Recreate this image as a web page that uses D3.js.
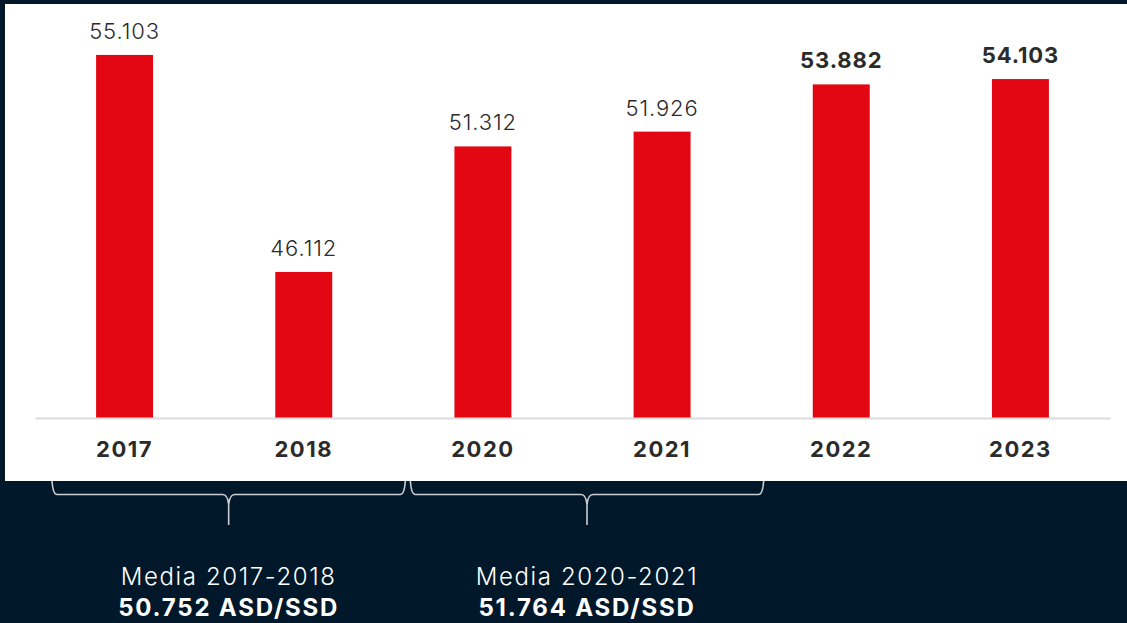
<!DOCTYPE html>
<html>
  <head>
    <meta charset="utf-8">
    <title>Media ASD/SSD</title>
    <style type="text/css">
        body {
            margin: 0;
            background: #01182b;
        }
        svg {
            display: block;
            font-family: "Inter", "Open Sans", sans-serif;
        }
    </style>
  </head>
  <body>
    <svg width="1127" height="623"></svg>

    <script src="https://cdn.jsdelivr.net/npm/d3@7"></script>
    <script>

    // Data
    var years = ["2017", "2018", "2020", "2021", "2022", "2023"];
    var values = [55.103, 46.112, 51.312, 51.926, 53.882, 54.103];
    var valueLabels = ["55.103", "46.112", "51.312", "51.926", "53.882", "54.103"];
    var boldLabels = [false, false, false, false, true, true];

    var groupRanges = [["2017", "2018"], ["2020", "2021"]];
    var groupTitles = ["Media 2017-2018", "Media 2020-2021"];
    var groupValues = ["50.752 ASD/SSD", "51.764 ASD/SSD"];

    var svg = d3.select("svg"),
        width = +svg.attr("width"),
        height = +svg.attr("height");

    // white panel
    svg.append("rect")
        .attr("x", 5)
        .attr("y", 4)
        .attr("width", width - 5)
        .attr("height", 477)
        .attr("fill", "#fff");

    var x = d3.scaleBand()
        .domain(years)
        .range([35, 1110])
        .paddingInner(0.682)
        .paddingOuter(0.341);

    var y = d3.scaleLinear()
        .domain([40.06, 56])
        .range([418, 418 - 15.94 * 24.135]);

    var data = years.map(function(d, i) {
        return { year: d, value: values[i], label: valueLabels[i], bold: boldLabels[i] };
    });

    // bars
    svg.append("g").selectAll("rect")
        .data(data)
        .enter().append("rect")
        .attr("x", function(d) { return x(d.year); })
        .attr("y", function(d) { return y(d.value); })
        .attr("width", x.bandwidth())
        .attr("height", function(d) { return y.range()[0] - y(d.value); })
        .attr("fill", "#e30613");

    // value labels
    svg.append("g").selectAll("text")
        .data(data)
        .enter().append("text")
        .attr("x", function(d) { return x(d.year) + x.bandwidth() / 2; })
        .attr("y", function(d) { return y(d.value) - 16; })
        .attr("text-anchor", "middle")
        .attr("font-size", 22)
        .attr("letter-spacing", 0.9)
        .attr("font-weight", function(d) { return d.bold ? 700 : 300; })
        .attr("fill", "#2b2b2b")
        .text(function(d) { return d.label; });

    // x axis
    var axis = svg.append("g")
        .attr("transform", "translate(0," + y.range()[0] + ")")
        .call(d3.axisBottom(x).tickSize(0).tickPadding(23).tickSizeOuter(0));

    axis.select(".domain")
        .attr("stroke", "#dcdcdc")
        .attr("stroke-width", 2);

    axis.selectAll("text")
        .attr("font-family", "Inter, 'Open Sans', sans-serif")
        .attr("font-size", 22)
        .attr("font-weight", 700)
        .attr("letter-spacing", 1.5)
        .attr("fill", "#2b2b2b")
        .attr("dy", "0.71em");

    // braces under the year pairs
    function bracePath(x0, x1, top, mid, tip) {
        var c = (x0 + x1) / 2;
        return "M" + x0 + "," + top +
            "Q" + (x0 + 1) + "," + mid + " " + (x0 + 5) + "," + mid +
            "L" + (c - 6) + "," + mid +
            "Q" + (c - 1) + "," + mid + " " + c + "," + (mid + 10) +
            "L" + c + "," + tip +
            "M" + c + "," + (mid + 10) +
            "Q" + (c + 1) + "," + mid + " " + (c + 6) + "," + mid +
            "L" + (x1 - 5) + "," + mid +
            "Q" + (x1 - 1) + "," + mid + " " + x1 + "," + top;
    }

    function braceEnds(d) {
        var x0 = x(d[0]) - x.step() * x.paddingInner() / 2 + 17;
        var x1 = x(d[1]) + x.bandwidth() + x.step() * x.paddingInner() / 2 + 12;
        return [x0, x1];
    }

    var groups = svg.append("g").selectAll("g")
        .data(groupRanges)
        .enter().append("g");

    groups.append("path")
        .attr("d", function(d) {
            var e = braceEnds(d);
            return bracePath(e[0], e[1], 481, 494.5, 525);
        })
        .attr("fill", "none")
        .attr("stroke", "#c9cdd2")
        .attr("stroke-width", 1.6);

    groups.append("text")
        .attr("x", function(d) { var e = braceEnds(d); return (e[0] + e[1]) / 2; })
        .attr("y", 585)
        .attr("text-anchor", "middle")
        .attr("font-size", 24)
        .attr("letter-spacing", 1.6)
        .attr("font-weight", 300)
        .attr("fill", "#fff")
        .text(function(d, i) { return groupTitles[i]; });

    groups.append("text")
        .attr("x", function(d) { var e = braceEnds(d); return (e[0] + e[1]) / 2; })
        .attr("y", 616)
        .attr("text-anchor", "middle")
        .attr("font-size", 24)
        .attr("letter-spacing", 1.8)
        .attr("font-weight", 700)
        .attr("fill", "#fff")
        .text(function(d, i) { return groupValues[i]; });

    </script>
  </body>
</html>
